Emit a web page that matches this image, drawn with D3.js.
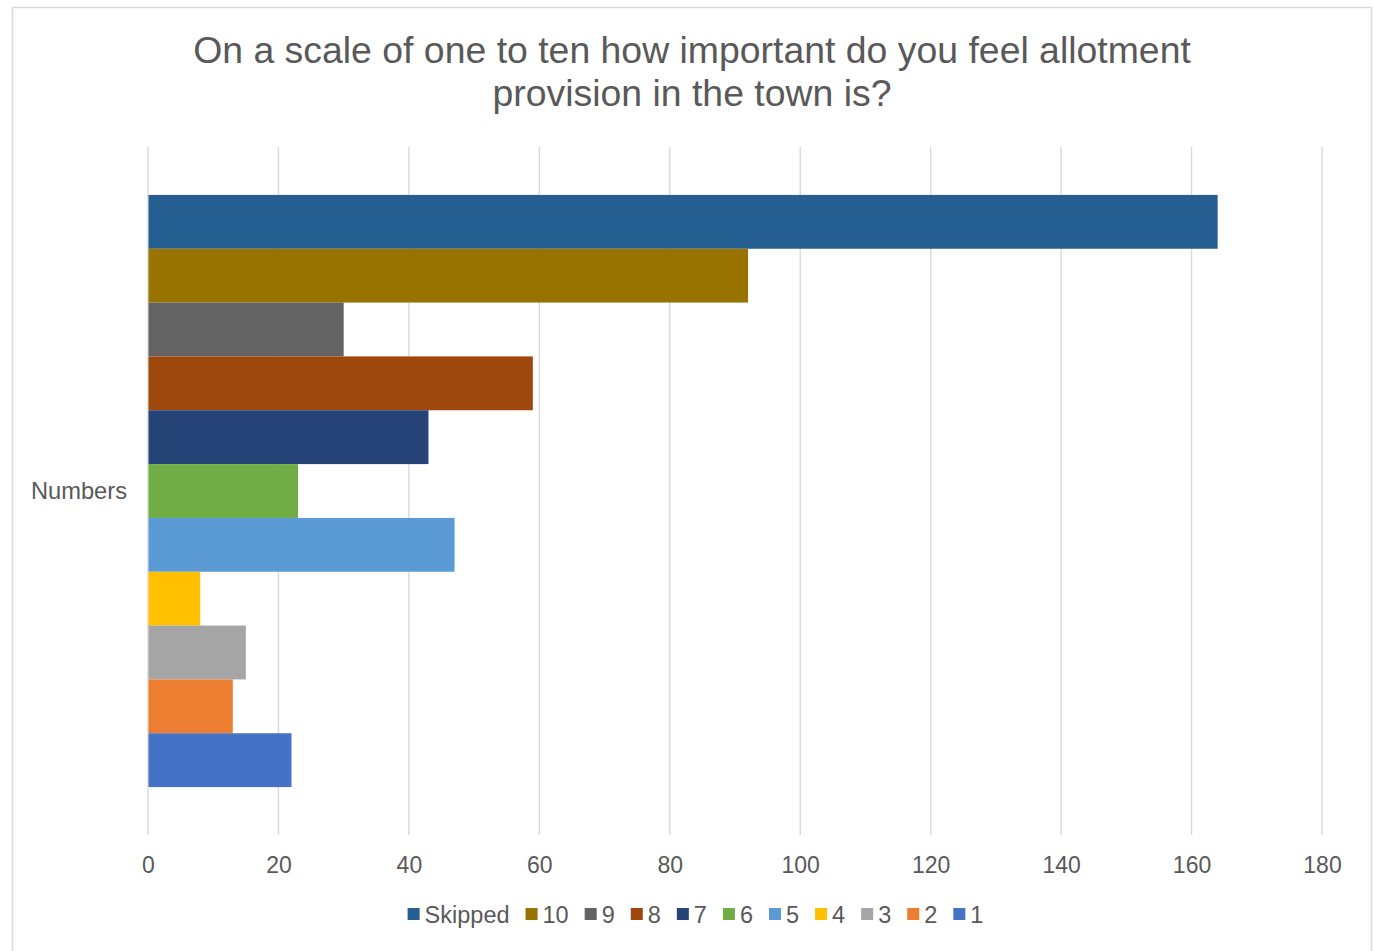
<!DOCTYPE html>
<html>
<head>
<meta charset="utf-8">
<script src="https://cdn.jsdelivr.net/npm/d3@7/dist/d3.min.js"></script>
<style>
  html, body { margin: 0; padding: 0; background: #fff; }
  svg { display: block; font-family: "Liberation Sans", Arial, sans-serif; }
</style>
</head>
<body>
<svg id="chart" width="1374" height="951"></svg>
<script>
// Survey responses: "how important is allotment provision", one bar per rating
const titleLines = ["On a scale of one to ten how important do you feel allotment", "provision in the town is?"];
const category = "Numbers";
const seriesNames = ["Skipped", "10", "9", "8", "7", "6", "5", "4", "3", "2", "1"];
const seriesValues = [164, 92, 30, 59, 43, 23, 47, 8, 15, 13, 22];
const seriesColors = ["#255e91", "#997300", "#636363", "#9e480e", "#264478", "#70ad47", "#5b9bd5", "#ffc000", "#a5a5a5", "#ed7d31", "#4472c4"];
const xTicks = [0, 20, 40, 60, 80, 100, 120, 140, 160, 180];

const svg = d3.select("#chart");
const plot = { left: 148, right: 1322, top: 147, bottom: 835 };
const textColor = "#595959";
const gridColor = "#d9d9d9";

// chart frame
svg.append("rect")
  .attr("x", 12.5).attr("y", 7.5)
  .attr("width", 1359).attr("height", 960)
  .attr("fill", "#fff").attr("stroke", gridColor).attr("stroke-width", 1.5);

// title
const title = svg.append("text")
  .attr("text-anchor", "middle")
  .attr("fill", textColor)
  .style("font-size", "37.4px");
titleLines.forEach((t, i) => {
  title.append("tspan").attr("x", 692).attr("y", 63 + i * 43).text(t);
});

const x = d3.scaleLinear().domain([0, 180]).range([plot.left, plot.right]);
const yCat = d3.scaleBand().domain([category]).range([plot.top, plot.bottom]);
const ySer = d3.scaleBand().domain(seriesNames)
  .range([yCat(category), yCat(category) + yCat.bandwidth()])
  .paddingInner(0).paddingOuter(0.89);

// vertical gridlines
svg.append("g").selectAll("line").data(xTicks).join("line")
  .attr("x1", d => x(d)).attr("x2", d => x(d))
  .attr("y1", plot.top).attr("y2", plot.bottom)
  .attr("stroke", gridColor).attr("stroke-width", 1.4);

// bars
svg.append("g").selectAll("rect").data(seriesNames).join("rect")
  .attr("x", x(0) + 0.5)
  .attr("y", d => ySer(d))
  .attr("width", (d, i) => x(seriesValues[i]) - x(0) - 0.5)
  .attr("height", ySer.bandwidth())
  .attr("fill", (d, i) => seriesColors[i]);

// x axis labels
const xAxis = d3.axisBottom(x).tickValues(xTicks).tickSize(0).tickPadding(0).tickFormat(d3.format("d"));
const gx = svg.append("g").attr("transform", `translate(0,${plot.bottom})`).call(xAxis);
gx.select(".domain").remove();
gx.selectAll("text")
  .attr("dy", null).attr("y", 38)
  .attr("fill", textColor)
  .style("font-size", "23px").style("font-family", "'Liberation Sans', Arial, sans-serif");

// category label
svg.append("text")
  .attr("x", 127).attr("y", yCat(category) + yCat.bandwidth() / 2 + 8)
  .attr("text-anchor", "end")
  .attr("fill", textColor)
  .style("font-size", "23.7px")
  .text(category);

// legend
const legend = svg.append("g");
const items = legend.selectAll("g").data(seriesNames).join("g");
items.append("rect")
  .attr("width", 12).attr("height", 12)
  .attr("y", 908)
  .attr("fill", (d, i) => seriesColors[i]);
items.append("text")
  .attr("y", 923)
  .attr("fill", textColor)
  .style("font-size", "23.5px")
  .text(d => d);
let cursor = 0;
const offsets = [];
items.each(function () {
  const w = d3.select(this).select("text").node().getComputedTextLength();
  offsets.push(cursor);
  cursor += 12 + 5 + w + 16;
});
const totalW = cursor - 16;
const startX = 695.5 - totalW / 2;
items.each(function (d, i) {
  const g = d3.select(this);
  g.select("rect").attr("x", startX + offsets[i]);
  g.select("text").attr("x", startX + offsets[i] + 17);
});
</script>
</body>
</html>
